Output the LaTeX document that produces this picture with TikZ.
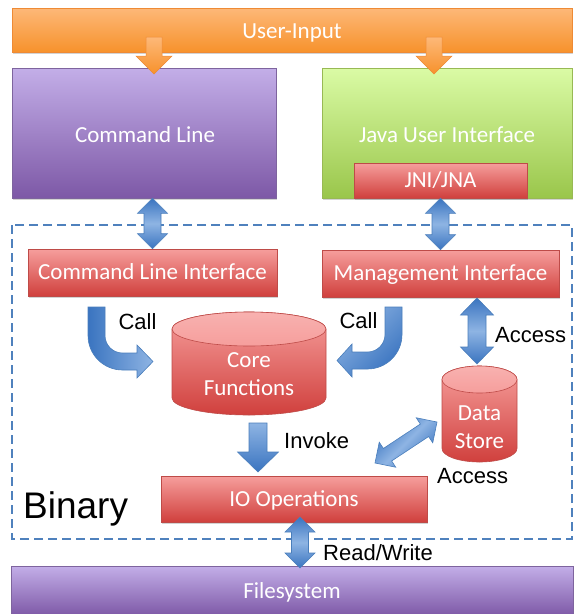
\documentclass[tikz,border=0pt]{standalone}
\usepackage{fontspec}
\setmainfont{Carlito}
\newfontfamily\arialf{Liberation Sans}
\usetikzlibrary{calc,shadows}

% palette
\definecolor{orT}{HTML}{FDB878}
\definecolor{orB}{HTML}{F7922C}
\definecolor{orE}{HTML}{EE8A35}
\definecolor{puT}{HTML}{C3AEE8}
\definecolor{puB}{HTML}{7D58A6}
\definecolor{puE}{HTML}{7E649E}
\definecolor{grT}{HTML}{DAFBA5}
\definecolor{grB}{HTML}{9AC64B}
\definecolor{grE}{HTML}{98B954}
\definecolor{rdT}{HTML}{F69E9C}
\definecolor{rdB}{HTML}{D0403D}
\definecolor{rdE}{HTML}{BE4B48}
\definecolor{blD}{HTML}{3A74C0}
\definecolor{blL}{HTML}{8EB4E3}
\definecolor{blE}{HTML}{4A7EBB}
\definecolor{frame}{HTML}{4F81BD}

% straight block arrow: style, start, end, shaft half-width, head half-width, head length
\newcommand\blockone[6]{%
  \path[#1] ($(#2)!#4!90:(#3)$) -- ($(#3)!#6!(#2)!#4!-90:(#2)$)
    -- ($(#3)!#6!(#2)!#5!-90:(#2)$) -- (#3)
    -- ($(#3)!#6!(#2)!#5!90:(#2)$) -- ($(#3)!#6!(#2)!#4!90:(#2)$)
    -- ($(#2)!#4!-90:(#3)$) -- cycle;}
% double-headed block arrow, same arguments
\newcommand\blocktwo[6]{%
  \path[#1] (#2) -- ($(#2)!#6!(#3)!#5!90:(#3)$) -- ($(#2)!#6!(#3)!#4!90:(#3)$)
    -- ($(#3)!#6!(#2)!#4!-90:(#2)$) -- ($(#3)!#6!(#2)!#5!-90:(#2)$) -- (#3)
    -- ($(#3)!#6!(#2)!#5!90:(#2)$) -- ($(#3)!#6!(#2)!#4!90:(#2)$)
    -- ($(#2)!#6!(#3)!#4!-90:(#3)$) -- ($(#2)!#6!(#3)!#5!-90:(#3)$) -- cycle;}

\begin{document}
\begin{tikzpicture}[x=1pt,y=-1pt,
  boxfont/.style={text=white,font=\fontsize{23}{27.5}\selectfont,inner sep=0pt},
  boxtext/.style={boxfont,text height=14.8pt,text depth=0pt},
  blk/.style={boxtext,draw,line width=0.6pt,
    drop shadow={shadow xshift=1.2pt,shadow yshift=-1.8pt,opacity=0.35}},
  orangebox/.style={blk,draw=orE,top color=orT,bottom color=orB},
  purplebox/.style={blk,draw=puE,top color=puT,bottom color=puB},
  greenbox/.style={blk,draw=grE,top color=grT,bottom color=grB},
  redbox/.style={blk,draw=rdE,top color=rdT,bottom color=rdB},
  lbl/.style={font=\arialf\fontsize{22}{26}\selectfont,text=black,inner sep=0pt},
  orangearrow/.style={draw=orE,line width=0.5pt,top color=orT,bottom color=orB},
  bluev/.style={draw=blE,line width=0.6pt,top color=blD,bottom color=blD,middle color=blL},
  bluedown/.style={draw=blE,line width=0.6pt,top color=blL,bottom color=blD},
  bluebend/.style={draw=blE,line width=0.6pt,shading angle=135,left color=blD,right color=blL},
  cylbody/.style={draw=rdE,line width=0.6pt,top color=rdT,bottom color=rdB},
  cyltop/.style={draw=rdE,line width=0.6pt,top color=rdT!80!white,bottom color=rdT},
]
\useasboundingbox (0,0) rectangle (575,614);

% the "Binary" boundary
\draw[frame,line width=2pt,dash pattern=on 9pt off 5pt] (12,225) rectangle (572,539);

% top row
\node[orangebox,minimum width=560pt,minimum height=44pt] (ui) at (292,30) {};
\node[boxtext] (uitext) at (292,31) {User-Input};
\node[purplebox,minimum width=264pt,minimum height=130pt] (cl) at (144,133) {};
\node[boxtext] (cltext) at (145,135) {Command Line};
\node[greenbox,minimum width=250pt,minimum height=130pt] (jui) at (447,133) {};
\node[boxtext] (juitext) at (447,135) {Java User Interface};
\node[redbox,minimum width=173pt,minimum height=35pt] (jni) at (440.5,180.5) {JNI/JNA};

% interfaces and IO
\node[redbox,minimum width=249pt,minimum height=47pt] (cli) at (152.5,272.5) {Command Line Interface};
\node[redbox,minimum width=237pt,minimum height=47pt] (mi) at (440.5,273.5) {Management Interface};
\node[redbox,minimum width=266pt,minimum height=46pt] (io) at (294,499) {IO Operations};
\node[purplebox,minimum width=562pt,minimum height=50pt] (fs) at (292,591) {Filesystem};

% core functions cylinder
\path[cylbody] (172,329) -- (172,398)
  .. controls (172,407.39) and (206.47,415) .. (249,415)
  .. controls (291.53,415) and (326,407.39) .. (326,398) -- (326,329)
  .. controls (326,319.61) and (291.53,312) .. (249,312)
  .. controls (206.47,312) and (172,319.61) .. (172,329) -- cycle;
\path[cyltop] (249,329) ellipse [x radius=77,y radius=17];
\node[boxfont,align=center] (core) at (249,374) {Core\\Functions};

% data store cylinder
\path[cylbody] (442,379.5) -- (442,448.5)
  .. controls (442,455.96) and (458.79,462) .. (479.5,462)
  .. controls (500.21,462) and (517,455.96) .. (517,448.5) -- (517,379.5)
  .. controls (517,372.04) and (500.21,366) .. (479.5,366)
  .. controls (458.79,366) and (442,372.04) .. (442,379.5) -- cycle;
\path[cyltop] (479.5,379.5) ellipse [x radius=37.5,y radius=13.5];
\node[boxfont,align=center] (ds) at (479.5,427) {Data\\Store};

% arrow end points
\coordinate (uiL) at (154,37);   \coordinate (clT) at (154,74);
\coordinate (uiR) at (434,37);   \coordinate (juiT) at (434,74);
\coordinate (clB) at (cli.north |- cl.south);
\coordinate (jniB) at (jni.south);
\coordinate (miB) at (477,298);  \coordinate (dsT) at (477,364);
\coordinate (coreB) at (258,423); \coordinate (ioT) at (258,472);
\coordinate (ioA) at (375,463);  \coordinate (dsA) at (437,422);
\coordinate (ioB) at (300,517);  \coordinate (fsT) at (300,568);

% user input into both front ends
\blockone{orangearrow}{uiL}{clT}{8pt}{18pt}{18pt}
\blockone{orangearrow}{uiR}{juiT}{8pt}{18pt}{18pt}

% front ends to interfaces
\blocktwo{bluev}{clB}{cli.north}{8.5pt}{15pt}{15pt}
\blocktwo{bluev}{jniB}{mi.north}{8.5pt}{15pt}{15pt}
% management interface to data store
\blocktwo{bluev}{miB}{dsT}{9pt}{16.5pt}{17pt}
% core to IO
\blockone{bluedown}{coreB}{ioT}{9pt}{20.5pt}{20pt}
% IO to data store
\blocktwo{bluev,shading angle=45}{ioA}{dsA}{7.5pt}{15pt}{15pt}
% IO to filesystem
\blocktwo{bluev}{ioB}{fsT}{8.5pt}{15pt}{15pt}

% bent "Call" arrows into the core
\path[bluebend] (88,307) -- (88,335.5)
  .. controls (88,354.55) and (103.45,370) .. (122.5,370) -- (137,370) -- (137,378)
  -- (153,361.5) -- (137,345) -- (137,353) -- (122.5,353)
  .. controls (112.83,353) and (105,345.17) .. (105,335.5) -- (105,307) -- cycle;
\path[bluebend,shading angle=225] (402,307) -- (402,334.5)
  .. controls (402,353.55) and (386.55,369) .. (367.5,369) -- (352,369) -- (352,377)
  -- (337,360.5) -- (352,344) -- (352,352) -- (367.5,352)
  .. controls (377.17,352) and (385,344.17) .. (385,334.5) -- (385,307) -- cycle;

% labels
\node[lbl,anchor=base] (callL) at (137.5,329) {Call};
\node[lbl,anchor=base] (callR) at (358.5,328) {Call};
\node[lbl,anchor=base west] (accT) at (495,342) {Access};
\node[lbl,anchor=base west] (inv) at (284,448) {Invoke};
\node[lbl,anchor=base west] (accB) at (437,483) {Access};
\node[lbl,anchor=base west] (rw) at (323,560) {Read/Write};
\node[lbl,anchor=base west,font=\arialf\fontsize{37}{40}\selectfont] (bin) at (23,518) {Binary};
\end{tikzpicture}
\end{document}
